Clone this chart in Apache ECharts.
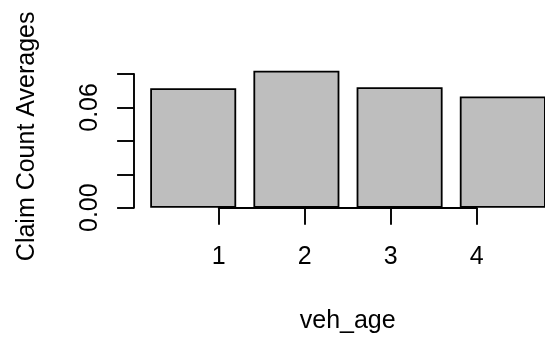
<!DOCTYPE html>
<html>
<head>
<meta charset="utf-8">
<script src="https://cdn.jsdelivr.net/npm/echarts@6/dist/echarts.min.js"></script>
<style>
  html, body { margin: 0; padding: 0; background: #ffffff; }
  #chart { width: 545px; height: 339px; }
</style>
</head>
<body>
<div id="chart"></div>
<script>
// Average claim counts by vehicle age group
const categories = ['1', '2', '3', '4'];
const claimAverages = [0.0715, 0.0819, 0.0721, 0.0665];
const yTicks = [0, 0.02, 0.04, 0.06, 0.08];
const yLabelled = [0, 0.06];

const FONT = 'Liberation Sans, Arial, Helvetica, sans-serif';
const ink = '#000000';

const chart = echarts.init(document.getElementById('chart'), null, { renderer: 'canvas' });

chart.setOption({
  animation: false,
  backgroundColor: '#ffffff',
  grid: [
    // bar area (one band per category); the last bar runs past the right edge
    { left: 141.6, width: 412.8, top: 74, bottom: 131.3, containLabel: false, outerBoundsMode: 'none' },
    // numeric tick axis running from the first to the last category
    { left: 218.7, width: 258, top: 74, bottom: 131.3, containLabel: false, outerBoundsMode: 'none' }
  ],
  xAxis: [
    {
      gridIndex: 0,
      type: 'category',
      data: categories,
      boundaryGap: true,
      axisLine: { show: false },
      axisTick: { show: false },
      axisLabel: { show: false },
      splitLine: { show: false }
    },
    {
      gridIndex: 1,
      type: 'value',
      min: 1,
      max: 4,
      interval: 1,
      axisLine: { show: true, lineStyle: { color: ink, width: 1.9 } },
      axisTick: { show: true, length: 17, lineStyle: { color: ink, width: 1.9 } },
      axisLabel: {
        show: true, margin: 37, color: ink, fontSize: 25, fontFamily: FONT,
        formatter: v => categories[v - 1] !== undefined ? categories[v - 1] : ''
      },
      splitLine: { show: false },
      name: 'veh_age',
      nameLocation: 'middle',
      nameGap: 101,
      nameTextStyle: { color: ink, fontSize: 25, fontFamily: FONT }
    }
  ],
  yAxis: [
    {
      gridIndex: 0,
      type: 'value',
      min: yTicks[0],
      max: yTicks[yTicks.length - 1],
      interval: 0.02,
      offset: 7.5,
      axisLine: { show: true, lineStyle: { color: ink, width: 1.9 } },
      axisTick: { show: true, length: 17, lineStyle: { color: ink, width: 1.9 } },
      axisLabel: {
        show: true, rotate: 90, margin: 31, color: ink, fontSize: 25, fontFamily: FONT,
        formatter: v => yLabelled.some(t => Math.abs(t - v) < 1e-9) ? v.toFixed(2) : ''
      },
      splitLine: { show: false },
      name: 'Claim Count Averages',
      nameLocation: 'middle',
      nameGap: 94,
      nameRotate: 90,
      nameTextStyle: { color: ink, fontSize: 25, fontFamily: FONT, padding: [0, 0, 0, 9] }
    },
    {
      gridIndex: 1,
      type: 'value',
      min: 0,
      max: 0.08,
      show: false
    }
  ],
  series: [
    {
      type: 'bar',
      xAxisIndex: 0,
      yAxisIndex: 0,
      data: claimAverages,
      barWidth: '83.333%',
      clip: false,
      itemStyle: { color: '#bebebe', borderColor: ink, borderWidth: 1.8 },
      emphasis: { disabled: true }
    }
  ]
});
</script>
</body>
</html>
